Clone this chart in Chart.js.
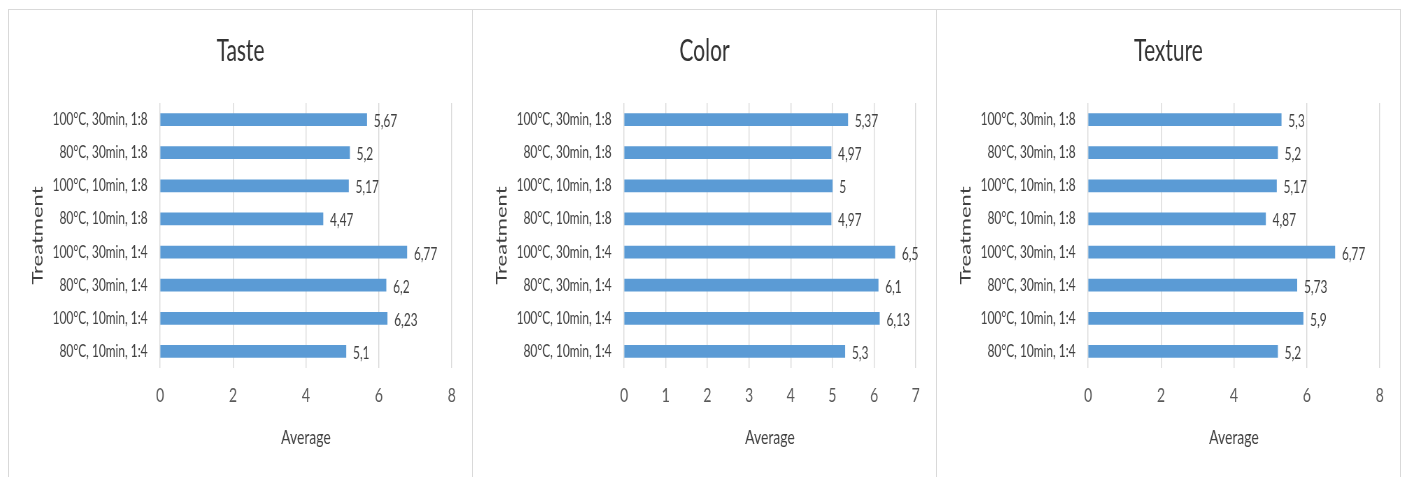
<!DOCTYPE html>
<html>
<head>
<meta charset="utf-8">
<script src="https://cdn.jsdelivr.net/npm/chart.js@4/dist/chart.umd.min.js"></script>
<style>
    body { margin: 0; background: #fff; }
    .panel { position: absolute; top: 9px; width: 463px; height: 470px; border: 1px solid #d9d9d9; background: #fff; }
    canvas { display: block; }
</style>
</head>
<body>
<!-- Canvas wird breiter gezeichnet und per CSS gestaucht (schmale, hohe Schrift wie im Original) -->
<div class="panel" style="left:8px"><canvas id="taste" width="662" height="468" style="width:463px;height:468px"></canvas></div>
<div class="panel" style="left:472px"><canvas id="color" width="662" height="468" style="width:463px;height:468px"></canvas></div>
<div class="panel" style="left:936px"><canvas id="texture" width="662" height="468" style="width:463px;height:468px"></canvas></div>
<script>
// Kategorien von oben nach unten
const categories = [
    "100°C, 30min, 1:8",
    "80°C, 30min, 1:8",
    "100°C, 10min, 1:8",
    "80°C, 10min, 1:8",
    "100°C, 30min, 1:4",
    "80°C, 30min, 1:4",
    "100°C, 10min, 1:4",
    "80°C, 10min, 1:4",
];
const tasteValues = [5.67, 5.2, 5.17, 4.47, 6.77, 6.2, 6.23, 5.1];
const colorValues = [5.37, 4.97, 5, 4.97, 6.5, 6.1, 6.13, 5.3];
const textureValues = [5.3, 5.2, 5.17, 4.87, 6.77, 5.73, 5.9, 5.2];
const tasteTicks = [0, 2, 4, 6, 8];
const colorTicks = [0, 1, 2, 3, 4, 5, 6, 7];
const textureTicks = [0, 2, 4, 6, 8];
const yTitle = "Treatment";
const xTitle = "Average";

const schrift = "Lato, 'Open Sans', sans-serif";

const wertLabels = {
    id: "wertLabels",
    afterDatasetsDraw(chart) {
        const ctx = chart.ctx;
        const meta = chart.getDatasetMeta(0);
        ctx.save();
        ctx.font = "17px " + schrift;
        ctx.fillStyle = "#404040";
        ctx.textAlign = "left";
        ctx.textBaseline = "middle";
        meta.data.forEach((bar, i) => {
            const v = chart.data.datasets[0].data[i];
            ctx.fillText(String(v).replace(".", ","), bar.x + 10, bar.y + 2);
        });
        ctx.restore();
    },
};

function zeichne(id, titel, werte, ticks) {
    new Chart(document.getElementById(id), {
        type: "bar",
        data: {
            labels: categories,
            datasets: [
                {
                    data: werte,
                    backgroundColor: "#5b9bd5",
                    barThickness: 12,
                },
            ],
        },
        options: {
            indexAxis: "y",
            responsive: false,
            animation: false,
            devicePixelRatio: 1,
            plugins: {
                legend: { display: false },
                tooltip: { enabled: false },
                title: {
                    display: true,
                    text: titel,
                    color: "#333333",
                    font: { family: schrift, size: 30, weight: "normal" },
                    padding: { top: 23, bottom: 34 },
                },
            },
            scales: {
                x: {
                    min: 0,
                    max: ticks[ticks.length - 1],
                    afterBuildTicks: (scale) => {
                        scale.ticks = ticks.map((t) => ({ value: t }));
                    },
                    afterFit: (scale) => {
                        scale.height = 110;
                    },
                    grid: { color: "#d9d9d9", lineWidth: 1.4, drawTicks: false },
                    border: { display: false },
                    ticks: {
                        color: "#595959",
                        padding: 16,
                        font: { family: schrift, size: 20 },
                    },
                    title: {
                        display: true,
                        text: xTitle,
                        color: "#404040",
                        font: { family: schrift, size: 20 },
                        padding: { top: 0, bottom: 28 },
                    },
                },
                y: {
                    afterFit: (scale) => {
                        scale.width = 216;
                    },
                    grid: { display: false, drawTicks: false },
                    border: { display: false },
                    ticks: {
                        color: "#404040",
                        padding: 18,
                        font: { family: schrift, size: 17 },
                    },
                    title: {
                        display: true,
                        text: yTitle,
                        color: "#404040",
                        font: { family: schrift, size: 22 },
                        padding: { top: 28, bottom: 0 },
                    },
                },
                // leere Achse rechts, nur als Abstand (Titel bleibt mittig)
                rechts: {
                    type: "category",
                    position: "right",
                    afterFit: (scale) => {
                        scale.width = 29;
                    },
                    grid: { display: false, drawTicks: false },
                    border: { display: false },
                    ticks: { display: false },
                },
            },
        },
        plugins: [wertLabels],
    });
}

zeichne("taste", "Taste", tasteValues, tasteTicks);
zeichne("color", "Color", colorValues, colorTicks);
zeichne("texture", "Texture", textureValues, textureTicks);
</script>
</body>
</html>
